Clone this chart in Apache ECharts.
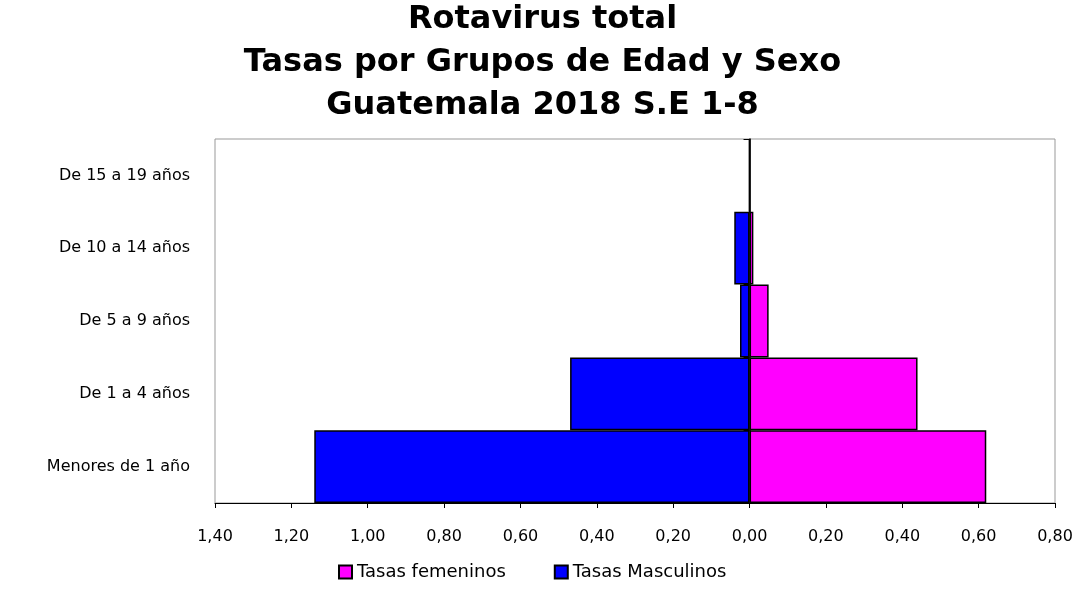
<!DOCTYPE html>
<html>
<head>
<meta charset="utf-8">
<script src="https://cdn.jsdelivr.net/npm/echarts@6/dist/echarts.min.js"></script>
<style>
  html, body { margin: 0; padding: 0; background: #fff; }
  #chart { width: 1085px; height: 592px; }
</style>
</head>
<body>
<div id="chart"></div>
<script>
  // grupos de edad, de abajo hacia arriba
  const categories = ['Menores de 1 año', 'De 1 a 4 años', 'De 5 a 9 años', 'De 10 a 14 años', 'De 15 a 19 años']
  const femeninos = [0.62, 0.44, 0.05, 0.01, 0]
  const masculinos = [1.14, 0.47, 0.025, 0.04, 0]
  const tickMin = -1.4
  const tickMax = 0.8
  const tickStep = 0.2

  const fmt = v => Math.abs(v).toFixed(2).replace('.', ',')
  const font = 'DejaVu Sans'

  const chart = echarts.init(document.getElementById('chart'))
  const option = {
    animation: false,
    title: {
      text: 'Rotavirus total\nTasas por Grupos de Edad y Sexo\nGuatemala 2018 S.E 1-8',
      left: 'center',
      top: -7,
      textStyle: {
        fontFamily: font,
        fontWeight: 'bold',
        fontSize: 32,
        lineHeight: 43,
        color: '#000'
      }
    },
    legend: {
      bottom: 6,
      left: 333,
      icon: 'rect',
      itemWidth: 13,
      itemHeight: 13,
      itemGap: 48,
      data: ['Tasas femeninos', 'Tasas Masculinos'],
      textStyle: { fontFamily: font, fontSize: 18, color: '#000' }
    },
    grid: {
      left: 215,
      right: 30,
      top: 139,
      bottom: 89,
      show: true,
      borderColor: '#999',
      borderWidth: 1,
      outerBoundsMode: 'none'
    },
    xAxis: {
      type: 'value',
      min: tickMin,
      max: tickMax,
      interval: tickStep,
      splitLine: { show: false },
      axisLine: { show: true, onZero: false, lineStyle: { color: '#000', width: 1 } },
      axisTick: { show: true, length: 5, lineStyle: { color: '#000' } },
      axisLabel: {
        formatter: fmt,
        margin: 26,
        fontFamily: font,
        fontSize: 16,
        color: '#000'
      }
    },
    yAxis: [
      {
        // etiquetas a la izquierda
        type: 'category',
        data: categories,
        position: 'left',
        axisLine: { show: false, onZero: false },
        axisTick: { show: false },
        axisLabel: {
          margin: 25,
          fontFamily: font,
          fontSize: 16,
          color: '#000'
        }
      },
      {
        // eje vertical en cero
        type: 'category',
        data: categories,
        position: 'left',
        axisLine: { show: true, onZero: true, lineStyle: { color: '#000', width: 1.5 } },
        axisTick: { show: true, length: 6, lineStyle: { color: '#000' } },
        axisLabel: { show: false }
      }
    ],
    series: [
      {
        name: 'Tasas Masculinos',
        type: 'bar',
        barGap: '-100%',
        barCategoryGap: 0,
        itemStyle: { color: '#0000ff', borderColor: '#000', borderWidth: 1.5 },
        data: masculinos.map(v => -v)
      },
      {
        name: 'Tasas femeninos',
        type: 'bar',
        barGap: '-100%',
        barCategoryGap: 0,
        itemStyle: { color: '#ff00ff', borderColor: '#000', borderWidth: 1.5 },
        data: femeninos
      }
    ]
  }
  chart.setOption(option)
</script>
</body>
</html>
